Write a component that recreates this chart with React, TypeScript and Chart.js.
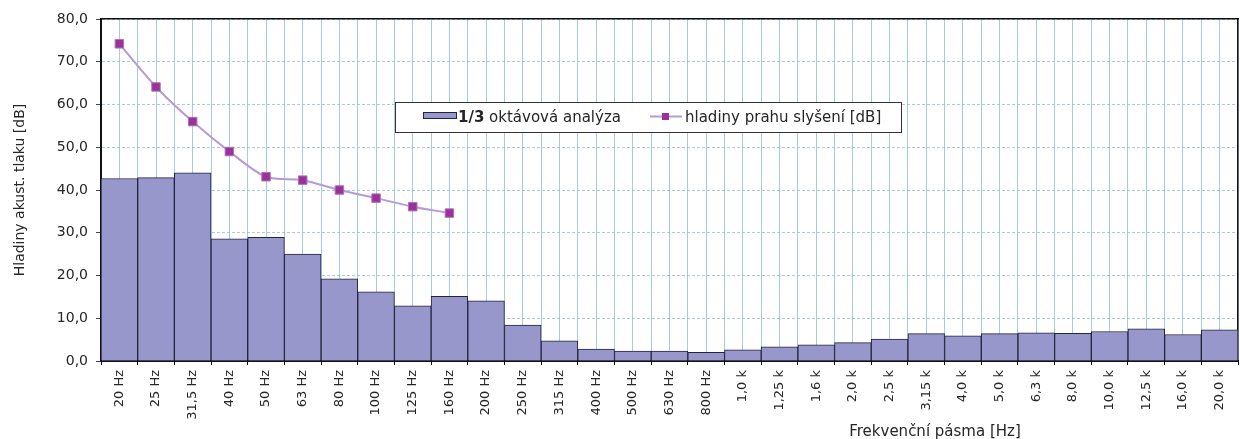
import React, { useEffect, useRef } from 'react';
import { Chart, registerables } from 'chart.js';

Chart.register(...registerables);

const categories = [
  '20 Hz', '25 Hz', '31,5 Hz', '40 Hz', '50 Hz', '63 Hz', '80 Hz', '100 Hz', '125 Hz', '160 Hz',
  '200 Hz', '250 Hz', '315 Hz', '400 Hz', '500 Hz', '630 Hz', '800 Hz',
  '1,0 k', '1,25 k', '1,6 k', '2,0 k', '2,5 k', '3,15 k', '4,0 k', '5,0 k', '6,3 k', '8,0 k',
  '10,0 k', '12,5 k', '16,0 k', '20,0 k',
];

const octaveLevels = [
  42.7, 42.9, 44.0, 28.6, 28.9, 25.0, 19.2, 16.2, 12.9, 15.1,
  14.1, 8.4, 4.7, 2.8, 2.3, 2.3, 2.0,
  2.6, 3.3, 3.8, 4.3, 5.1, 6.4, 5.9, 6.4, 6.6, 6.5,
  6.9, 7.5, 6.2, 7.3,
];

const thresholdLevels: (number | null)[] = [
  74.2, 64.1, 56.0, 49.0, 43.1, 42.3, 40.0, 38.1, 36.1, 34.6,
  null, null, null, null, null, null, null,
  null, null, null, null, null, null, null, null, null, null,
  null, null, null, null,
];

const barLabel = '1/3 oktávová analýza';
const lineLabel = 'hladiny prahu slyšení [dB]';
const yTitle = 'Hladiny akust. tlaku [dB]';
const xTitle = 'Frekvenční pásma [Hz]';
const yMin = 0;
const yMax = 80;
const yStep = 10;

const FONT = "'DejaVu Sans', sans-serif";
const TEXT = '#262626';
const BAR_FILL = '#9797cc';
const BAR_BORDER = '#23233f';
const LINE_COLOR = '#b49ad6';
const MARKER = '#993399';
const GRID = 'rgba(140,185,215,0.75)';
const AXIS = '#111111';

const overlayPlugin = {
  id: 'overlay',
  afterDraw(chart: any) {
    const ctx = chart.ctx as CanvasRenderingContext2D;
    const ds = chart.data.datasets;
    ctx.save();
    // legend box
    const bx = 395, by = 102, bw = 506, bh = 30;
    ctx.fillStyle = '#ffffff';
    ctx.fillRect(bx, by, bw, bh);
    ctx.strokeStyle = '#333333';
    ctx.lineWidth = 1;
    ctx.strokeRect(bx + 0.5, by + 0.5, bw, bh);
    // bar swatch
    ctx.fillStyle = ds[0].backgroundColor;
    ctx.fillRect(423, 112, 33, 6);
    ctx.strokeStyle = ds[0].borderColor;
    ctx.strokeRect(423.5, 112.5, 33, 6);
    ctx.fillStyle = TEXT;
    ctx.textBaseline = 'alphabetic';
    ctx.textAlign = 'left';
    const parts = String(ds[0].label).split(' ');
    ctx.font = `bold 15px ${FONT}`;
    ctx.fillText(parts[0], 458, 122);
    const w0 = ctx.measureText(parts[0]).width;
    ctx.font = `15px ${FONT}`;
    ctx.fillText(' ' + parts.slice(1).join(' '), 458 + w0, 122);
    // line swatch
    ctx.strokeStyle = ds[1].borderColor;
    ctx.lineWidth = 2;
    ctx.beginPath();
    ctx.moveTo(650, 116.5);
    ctx.lineTo(682, 116.5);
    ctx.stroke();
    ctx.fillStyle = ds[1].pointBackgroundColor;
    ctx.fillRect(662, 113, 7, 7);
    ctx.fillStyle = TEXT;
    ctx.font = `15px ${FONT}`;
    ctx.fillText(String(ds[1].label), 685, 122);
    // x axis title
    ctx.font = `15px ${FONT}`;
    ctx.textAlign = 'center';
    ctx.fillText(xTitle, 935, 436);
    ctx.restore();
  },
};

export default function App() {
  const canvasRef = useRef<HTMLCanvasElement | null>(null);

  useEffect(() => {
    if (!canvasRef.current) return;
    Chart.defaults.font.family = FONT;
    const chart = new Chart(canvasRef.current, {
      type: 'bar',
      data: {
        labels: categories,
        datasets: [
          {
            type: 'bar',
            label: barLabel,
            data: octaveLevels,
            backgroundColor: BAR_FILL,
            borderColor: BAR_BORDER,
            borderWidth: 1,
            barPercentage: 1,
            categoryPercentage: 1,
            order: 2,
            xAxisID: 'x',
            yAxisID: 'y',
          } as any,
          {
            type: 'line',
            label: lineLabel,
            data: thresholdLevels,
            borderColor: LINE_COLOR,
            borderWidth: 2,
            tension: 0.3,
            pointStyle: 'rect',
            pointRadius: 6,
            pointBackgroundColor: MARKER,
            pointBorderColor: '#b070c0',
            pointBorderWidth: 1,
            order: 1,
            xAxisID: 'x',
            yAxisID: 'y',
          } as any,
        ],
      },
      options: {
        animation: false,
        responsive: true,
        maintainAspectRatio: false,
        layout: { autoPadding: false, padding: { left: 0, right: 2, top: 19, bottom: 0 } },
        plugins: {
          legend: { display: false },
          tooltip: { enabled: false },
        },
        scales: {
          x: {
            type: 'category',
            position: 'bottom',
            offset: true,
            grid: {
              offset: true,
              color: GRID,
              lineWidth: 1,
              tickLength: 4,
              tickColor: AXIS,
            },
            border: { display: true, color: AXIS, width: 2 },
            ticks: {
              autoSkip: false,
              minRotation: 90,
              maxRotation: 90,
              padding: 5,
              color: TEXT,
              font: { size: 13, family: FONT },
            },
            afterFit: (scale: any) => {
              scale.height = 78;
              scale.paddingLeft = 0;
              scale.paddingRight = 0;
            },
          },
          x2: {
            type: 'category',
            position: 'top',
            offset: true,
            grid: {
              offset: false,
              color: GRID,
              lineWidth: 1,
              drawTicks: false,
            },
            border: { display: true, color: AXIS, width: 1.5 },
            ticks: { display: false },
            afterFit: (scale: any) => {
              scale.height = 0;
              scale.paddingLeft = 0;
              scale.paddingRight = 0;
            },
          },
          y: {
            type: 'linear',
            position: 'left',
            min: yMin,
            max: yMax,
            ticks: {
              stepSize: yStep,
              padding: 8,
              color: TEXT,
              font: { size: 14, family: FONT },
              callback: (v: any) => Number(v).toFixed(1).replace('.', ','),
            },
            grid: {
              color: GRID,
              lineWidth: 1,
              tickLength: 5,
              tickColor: '#444444',
            },
            border: { display: true, color: AXIS, width: 2, dash: [3, 2] },
            title: {
              display: true,
              text: yTitle,
              color: TEXT,
              font: { size: 14, family: FONT },
              padding: { top: 12, bottom: 0 },
            },
            afterFit: (scale: any) => {
              scale.width = 101;
              scale.paddingTop = 0;
              scale.paddingBottom = 0;
            },
          },
          y2: {
            type: 'linear',
            position: 'right',
            min: yMin,
            max: yMax,
            grid: { drawOnChartArea: false, drawTicks: false },
            ticks: { display: false },
            border: { display: true, color: AXIS, width: 1.5 },
            afterFit: (scale: any) => {
              scale.width = 0;
              scale.paddingTop = 0;
              scale.paddingBottom = 0;
            },
          },
        },
      } as any,
      plugins: [overlayPlugin],
    });
    return () => chart.destroy();
  }, []);

  return (
    <div style={{ position: 'fixed', left: 0, top: 0, width: 1240, height: 439, background: '#ffffff' }}>
      <canvas ref={canvasRef} />
    </div>
  );
}
